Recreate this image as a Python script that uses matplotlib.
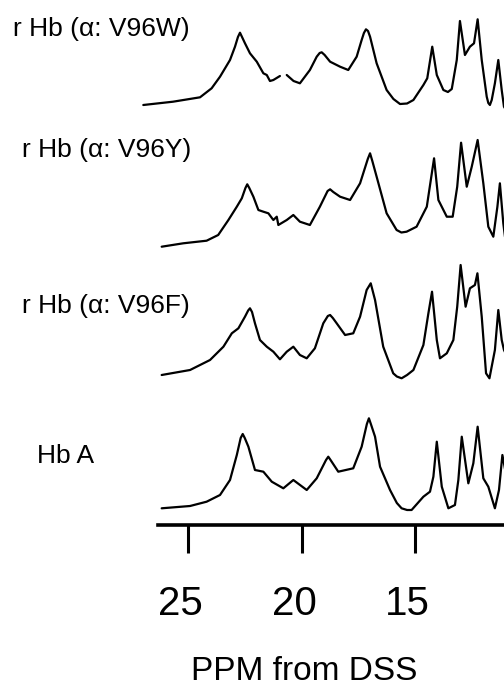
import numpy as np
import matplotlib
matplotlib.use("Agg")
import matplotlib.pyplot as plt
from matplotlib.transforms import ScaledTranslation

# widma 1H NMR (ppm, intensywnosc nad linia bazowa)
ppm_w = [26.97, 25.66, 24.47, 23.96, 23.59, 23.15, 22.93, 22.80, 22.71, 22.62, 22.49, 22.27,
         21.97, 21.68, 21.53, 21.39, 21.24, 20.95, np.nan, 20.65, 20.35, 20.07, 19.63, 19.33,
         19.20, 19.11, 18.98, 18.74, 18.30, 17.94, 17.57, 17.35, 17.25, 17.16, 17.07, 16.98,
         16.69, 16.25, 15.95, 15.66, 15.35, 15.07, 14.63, 14.46, 14.24, 14.04, 13.75, 13.55,
         13.38, 13.16, 13.02, 12.80, 12.58, 12.40, 12.24, 12.06, 11.84, 11.77, 11.70, 11.62,
         11.48, 11.33, 11.18, 11.08, 10.99]
int_w = [1, 4.3, 8.7, 17.7, 29.3, 46, 59.3, 69, 73.3, 69, 62.7, 52.7,
         44.3, 32.7, 31, 25, 26, 30, np.nan, 31, 25, 22.7, 36, 49.3,
         53, 53.7, 51, 44.3, 39.3, 36, 49.3, 66, 73, 76.7, 75, 69.3,
         42.7, 16, 7, 2, 2.5, 6, 21, 27.7, 59.3, 31, 16, 14,
         17, 46, 85, 51, 59.3, 62.7, 86.7, 46, 9.3, 3, 1, 6,
         22.7, 46, 16, -0.7, -4]

ppm_y = [26.16, 25.21, 24.18, 23.67, 23.22, 22.85, 22.63, 22.47, 22.39, 22.30, 22.12, 21.90,
         21.68, 21.46, 21.24, 21.09, 21.02, 20.65, 20.36, 20.07, 19.63, 19.19, 18.85, 18.74,
         18.60, 18.30, 17.86, 17.42, 17.08, 16.98, 16.88, 16.69, 16.25, 15.81, 15.60, 15.37,
         14.93, 14.48, 14.16, 13.97, 13.60, 13.34, 13.14, 12.97, 12.72, 12.50, 12.24, 11.99,
         11.77, 11.55, 11.37, 11.26, 11.11, 10.99]
int_y = [0.3, 3.7, 6.3, 12, 27, 40.3, 48.7, 59, 62.7, 59, 50.3, 37,
         35.3, 33.7, 27, 30.3, 22, 27, 32, 25.3, 22, 40.3, 56, 57.7,
         55, 50.3, 47, 63.7, 88, 93.7, 86, 70.3, 33.7, 17, 14.5, 15.3,
         20.3, 40.3, 88.7, 47, 30.3, 30.3, 60.3, 104.3, 60.3, 80.3, 107, 63.7,
         20.3, 10.3, 40.3, 63.7, 23.7, 2]

ppm_f = [26.16, 24.91, 24.03, 23.44, 23.07, 22.78, 22.49, 22.35, 22.27, 22.18, 22.05, 21.83,
         21.53, 21.24, 20.95, 20.65, 20.36, 20.07, 19.77, 19.41, 19.04, 18.84, 18.74, 18.62,
         18.45, 18.08, 17.72, 17.42, 17.13, 16.95, 16.76, 16.40, 15.96, 15.80, 15.59, 15.35,
         15.07, 14.63, 14.41, 14.25, 14.04, 13.90, 13.60, 13.31, 13.14, 12.99, 12.77, 12.58,
         12.36, 12.25, 12.06, 11.87, 11.72, 11.48, 11.33, 11.18, 11.08, 10.95]
int_f = [3, 8, 18, 31.3, 44.7, 49.7, 61.3, 67.5, 69.7, 66, 54.7, 38,
         31.3, 26.3, 18.7, 26.3, 31.3, 23, 19.7, 29.7, 54.7, 62, 63, 60,
         54.7, 43, 44.7, 61.3, 88, 94.7, 78, 31.3, 4.7, 1.5, -0.3, 3,
         8, 33, 64.7, 86.3, 38, 19.7, 24.7, 38, 71.3, 113, 71.3, 89.7,
         93, 104.7, 61.3, 4.7, -0.3, 28, 68, 38, 28, 22]

ppm_a = [26.16, 24.91, 24.18, 23.59, 23.15, 22.85, 22.68, 22.59, 22.50, 22.34, 22.05, 21.68,
         21.31, 20.80, 20.36, 19.77, 19.33, 18.92, 18.82, 18.72, 18.38, 17.72, 17.35, 17.12,
         17.03, 16.93, 16.76, 16.54, 16.10, 15.80, 15.59, 15.35, 15.15, 14.63, 14.34, 14.19,
         14.04, 13.82, 13.53, 13.24, 13.09, 12.94, 12.65, 12.43, 12.24, 11.99, 11.77, 11.48,
         11.30, 11.15, 11.08, 10.95]
int_a = [1.7, 4, 8.3, 15, 30, 55, 72, 76, 72, 63.3, 40, 38.3,
         28.3, 21.7, 30, 20, 31.7, 50, 53.3, 50, 38.3, 41.7, 63.3, 86,
         91.7, 85, 73.3, 43.3, 20, 7, 1.7, 0, 0, 13.3, 18.3, 33.3,
         68.3, 23.3, 1.7, 5, 30, 73.3, 26.7, 46.7, 83.3, 31.7, 23.3, 1.7,
         20, 55, 46.7, 30]

names = ["r Hb (\u03b1: V96W)", "r Hb (\u03b1: V96Y)", "r Hb (\u03b1: V96F)", "Hb A"]
tick_ppm = [25, 20, 15]


def main():
    fig = plt.figure(figsize=(5.04, 6.93), dpi=100)
    ax = fig.add_axes([140 / 504, 168 / 693, 364 / 504, 525 / 693])

    # przesuniecia widm w pionie
    offsets = [419, 278, 147, 15]
    spectra = [(ppm_w, int_w), (ppm_y, int_y), (ppm_f, int_f), (ppm_a, int_a)]
    for (x, y), off in zip(spectra, offsets):
        ax.plot(x, np.array(y) + off, color="black", lw=1.6,
                solid_joinstyle="round", solid_capstyle="round")

    ax.set_xlim(27.115, 11.079)
    ax.set_ylim(0, 525)
    for s in ["top", "left", "right"]:
        ax.spines[s].set_visible(False)
    ax.spines["bottom"].set_linewidth(2.6)
    ax.spines["bottom"].set_bounds(26.32, 11.079)
    ax.set_yticks([])
    ax.set_xticks(tick_ppm)
    ax.set_xticklabels([str(t) for t in tick_ppm], fontfamily="Liberation Sans", fontsize=29)
    ax.tick_params(axis="x", direction="out", length=20, width=2.2, pad=23)
    shift = ScaledTranslation(-7.5 / 100, 0, fig.dpi_scale_trans)
    for lab in ax.get_xticklabels():
        lab.set_transform(lab.get_transform() + shift)

    # podpisy widm
    label_pos = [(13, 36), (22, 157), (22, 313), (37, 463)]
    for name, (px, py) in zip(names, label_pos):
        fig.text(px / 504, 1 - py / 693, name, fontfamily="Liberation Sans", fontsize=19,
                 ha="left", va="baseline")

    fig.text(304 / 504, 1 - 680 / 693, "PPM from DSS", fontfamily="Liberation Sans",
             fontsize=24, ha="center", va="baseline")

    fig.savefig("out.png", dpi=100)


if __name__ == "__main__":
    main()
